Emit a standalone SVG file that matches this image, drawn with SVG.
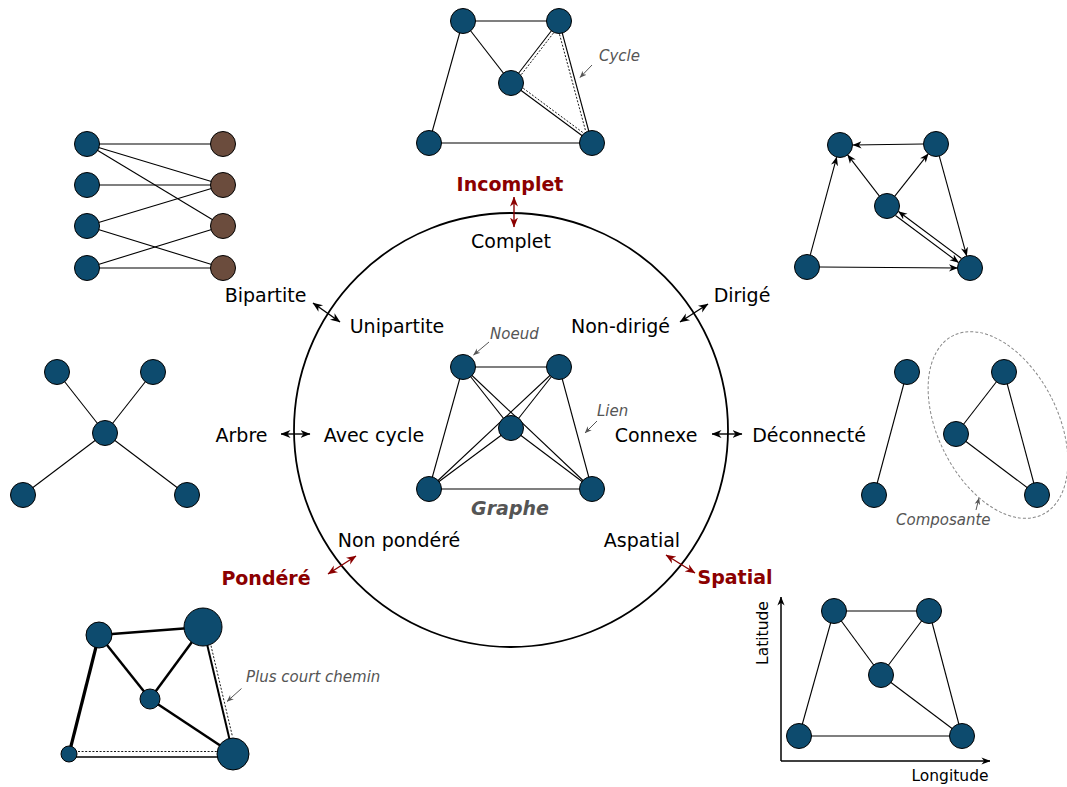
<svg xmlns="http://www.w3.org/2000/svg" width="1067" height="787" viewBox="0 0 1067 787">
<style>
.n{fill:#0d4b6e;stroke:#000;stroke-width:1}
.br{fill:#6b4c3d;stroke:#000;stroke-width:1}
.e{stroke:#000;stroke-width:1.1;fill:none}
.dt{stroke:#000;stroke-width:0.9;stroke-dasharray:2 1.6;fill:none}
.t{font-family:"DejaVu Sans",sans-serif;font-size:19px;text-anchor:middle;fill:#000}
.r{fill:#8b0000;font-weight:bold}
.a{font-family:"DejaVu Sans",sans-serif;font-size:15px;font-style:italic;fill:#555}
.ar{stroke:#000;stroke-width:1.4;fill:none;marker-start:url(#hk);marker-end:url(#hk)}
.arr{stroke:#8b0000;stroke-width:1.4;fill:none;marker-start:url(#hr);marker-end:url(#hr)}
.ag{stroke:#555;stroke-width:1;fill:none;marker-end:url(#hg)}
.de{stroke:#000;stroke-width:1.1;fill:none;marker-end:url(#hd)}
</style>
<defs>
<marker id="hk" viewBox="0 0 10 10" refX="9.5" refY="5" markerWidth="10" markerHeight="10" markerUnits="userSpaceOnUse" orient="auto-start-reverse"><path d="M0,1 L10,5 L0,9 L3,5 Z" fill="#000"/></marker>
<marker id="hr" viewBox="0 0 10 10" refX="9.5" refY="5" markerWidth="10" markerHeight="10" markerUnits="userSpaceOnUse" orient="auto-start-reverse"><path d="M0,1 L10,5 L0,9 L3,5 Z" fill="#8b0000"/></marker>
<marker id="hg" viewBox="0 0 10 10" refX="9.5" refY="5" markerWidth="7" markerHeight="7" markerUnits="userSpaceOnUse" orient="auto"><path d="M0,1 L10,5 L0,9 L3,5 Z" fill="#555"/></marker>
<marker id="hd" viewBox="0 0 10 10" refX="9.5" refY="5" markerWidth="9" markerHeight="9" markerUnits="userSpaceOnUse" orient="auto"><path d="M0,1 L10,5 L0,9 L3,5 Z" fill="#000"/></marker>
</defs>
<rect width="1067" height="787" fill="#fff"/>

<!-- central circle -->
<circle id="circle" cx="511" cy="430" r="217" fill="none" stroke="#000" stroke-width="1.8"/>

<!-- connectors -->
<g id="connectors">
  <!-- property arrows -->
  <line class="arr" x1="514" y1="197" x2="514" y2="227"/>
  <line class="ar" x1="313" y1="303" x2="340" y2="322"/>
  <line class="ar" x1="680" y1="322" x2="708" y2="304"/>
  <line class="ar" x1="281" y1="434" x2="310" y2="434"/>
  <line class="ar" x1="712" y1="434" x2="742" y2="434"/>
  <line class="arr" x1="328" y1="574" x2="356" y2="556"/>
  <line class="arr" x1="666" y1="555" x2="695" y2="573"/>
  <!-- annotation arrows -->
  <line class="ag" x1="592" y1="65" x2="580" y2="77.5"/>
  <line class="ag" x1="489" y1="342" x2="473.5" y2="355"/>
  <line class="ag" x1="597" y1="421" x2="585" y2="433"/>
  <line class="ag" x1="976" y1="510" x2="979" y2="498"/>
  <line class="ag" x1="241.5" y1="688.5" x2="227" y2="701.5"/>
  <!-- top graph (cycle) -->
  <g id="e-top">
    <line class="e" x1="463" y1="21" x2="559" y2="21"/>
    <line class="e" x1="463" y1="21" x2="511" y2="83"/>
    <line class="e" x1="463" y1="21" x2="429" y2="143"/>
    <line class="e" x1="429" y1="143" x2="592" y2="143"/>
    <line class="e" x1="511" y1="83" x2="559" y2="21"/>
    <line class="e" x1="511" y1="83" x2="592" y2="143"/>
    <line class="e" x1="559" y1="21" x2="592" y2="143"/>
    <line class="dt" x1="521.4" y1="74.5" x2="553.4" y2="33.1"/>
    <line class="dt" x1="559.5" y1="34.3" x2="585.7" y2="131.3"/>
    <line class="dt" x1="523.3" y1="88.3" x2="583.3" y2="132.9"/>
  </g>
  <!-- bipartite -->
  <g id="e-bip">
    <line class="e" x1="87" y1="144" x2="223" y2="144"/>
    <line class="e" x1="87" y1="144" x2="223" y2="185"/>
    <line class="e" x1="87" y1="144" x2="223" y2="226"/>
    <line class="e" x1="87" y1="185" x2="223" y2="185"/>
    <line class="e" x1="87" y1="226" x2="223" y2="185"/>
    <line class="e" x1="87" y1="226" x2="223" y2="268"/>
    <line class="e" x1="87" y1="268" x2="223" y2="226"/>
    <line class="e" x1="87" y1="268" x2="223" y2="268"/>
  </g>
  <!-- directed -->
  <g id="e-dir">
    <line class="de" x1="923" y1="144" x2="853" y2="145"/>
    <line class="de" x1="879.4" y1="196.1" x2="847.6" y2="154.9"/>
    <line class="de" x1="894.8" y1="196.2" x2="928.2" y2="153.8"/>
    <line class="de" x1="810.3" y1="254.9" x2="836.7" y2="157.1"/>
    <line class="de" x1="819.5" y1="267" x2="957.5" y2="268"/>
    <line class="de" x1="939.3" y1="156.1" x2="966.7" y2="255.9"/>
    <line class="de" x1="895.5" y1="215.5" x2="958.5" y2="262.5"/>
    <line class="de" x1="961.5" y1="258.5" x2="898.5" y2="211.5"/>
  </g>
  <!-- tree -->
  <g id="e-tree">
    <line class="e" x1="105" y1="433" x2="57" y2="372"/>
    <line class="e" x1="105" y1="433" x2="153" y2="372"/>
    <line class="e" x1="105" y1="433" x2="23" y2="495"/>
    <line class="e" x1="105" y1="433" x2="187" y2="495"/>
  </g>
  <!-- disconnected -->
  <g id="e-dis">
    <line class="e" x1="907" y1="372" x2="874" y2="495"/>
    <line class="e" x1="1004" y1="372" x2="956" y2="434"/>
    <line class="e" x1="1004" y1="372" x2="1037" y2="495"/>
    <line class="e" x1="956" y1="434" x2="1037" y2="495"/>
    <ellipse cx="998" cy="425" rx="60" ry="100" transform="rotate(-26.6 998 425)" fill="none" stroke="#888" stroke-width="1" stroke-dasharray="3 2"/>
  </g>
  <!-- center complete graph -->
  <g id="e-center">
    <line class="e" x1="463" y1="367" x2="559" y2="367"/>
    <line class="e" x1="463" y1="367" x2="429" y2="489"/>
    <line class="e" x1="463" y1="367" x2="511" y2="428"/>
    <line class="e" x1="463" y1="367" x2="592" y2="489"/>
    <line class="e" x1="559" y1="367" x2="592" y2="489"/>
    <line class="e" x1="559" y1="367" x2="511" y2="428"/>
    <line class="e" x1="559" y1="367" x2="429" y2="489"/>
    <line class="e" x1="511" y1="428" x2="429" y2="489"/>
    <line class="e" x1="511" y1="428" x2="592" y2="489"/>
    <line class="e" x1="429" y1="489" x2="592" y2="489"/>
  </g>
  <!-- weighted -->
  <g id="e-weighted">
    <line class="e" style="stroke-width:2.5" x1="99" y1="635" x2="203" y2="627"/>
    <line class="e" style="stroke-width:2.5" x1="99" y1="635" x2="150" y2="699"/>
    <line class="e" style="stroke-width:2.5" x1="203" y1="627" x2="150" y2="699"/>
    <line class="e" style="stroke-width:3.2" x1="99" y1="635" x2="69" y2="754"/>
    <line class="e" style="stroke-width:2.5" x1="150" y1="699" x2="233" y2="754"/>
    <line class="e" style="stroke-width:2" x1="203" y1="627" x2="233" y2="754"/>
    <line class="e" style="stroke-width:1.3" x1="69" y1="757" x2="233" y2="757"/>
    <line class="dt" x1="211" y1="645.7" x2="232.5" y2="736.7"/>
    <line class="dt" x1="78" y1="751.5" x2="217" y2="751.5"/>
  </g>
  <!-- spatial -->
  <g id="e-spatial">
    <line class="e" x1="834" y1="611" x2="929" y2="611"/>
    <line class="e" x1="834" y1="611" x2="799" y2="736"/>
    <line class="e" x1="834" y1="611" x2="881" y2="675"/>
    <line class="e" x1="929" y1="611" x2="881" y2="675"/>
    <line class="e" x1="929" y1="611" x2="962" y2="736"/>
    <line class="e" x1="881" y1="675" x2="962" y2="736"/>
    <line class="e" x1="799" y1="736" x2="962" y2="736"/>
    <line stroke="#000" stroke-width="1.5" x1="781" y1="761" x2="781" y2="597" marker-end="url(#hd)"/>
    <line stroke="#000" stroke-width="1.5" x1="781" y1="761" x2="990" y2="761" marker-end="url(#hd)"/>
  </g>
</g>

<!-- nodes: top graph -->
<g id="top-a"><circle class="n" cx="463" cy="21" r="12.5"/></g>
<g id="top-b"><circle class="n" cx="559" cy="21" r="12.5"/></g>
<g id="top-c"><circle class="n" cx="511" cy="83" r="12.5"/></g>
<g id="top-d"><circle class="n" cx="429" cy="143" r="12.5"/></g>
<g id="top-e"><circle class="n" cx="592" cy="143" r="12.5"/></g>
<!-- bipartite -->
<g id="bip-l1"><circle class="n" cx="87" cy="144" r="12.5"/></g>
<g id="bip-l2"><circle class="n" cx="87" cy="185" r="12.5"/></g>
<g id="bip-l3"><circle class="n" cx="87" cy="226" r="12.5"/></g>
<g id="bip-l4"><circle class="n" cx="87" cy="268" r="12.5"/></g>
<g id="bip-r1"><circle class="br" cx="223" cy="144" r="12.5"/></g>
<g id="bip-r2"><circle class="br" cx="223" cy="185" r="12.5"/></g>
<g id="bip-r3"><circle class="br" cx="223" cy="226" r="12.5"/></g>
<g id="bip-r4"><circle class="br" cx="223" cy="268" r="12.5"/></g>
<!-- directed -->
<g id="dir-tl"><circle class="n" cx="840" cy="145" r="12.5"/></g>
<g id="dir-tr"><circle class="n" cx="936" cy="144" r="12.5"/></g>
<g id="dir-c"><circle class="n" cx="887" cy="206" r="12.5"/></g>
<g id="dir-bl"><circle class="n" cx="807" cy="267" r="12.5"/></g>
<g id="dir-br"><circle class="n" cx="970" cy="268" r="12.5"/></g>
<!-- tree -->
<g id="tree-tl"><circle class="n" cx="57" cy="372" r="12.5"/></g>
<g id="tree-tr"><circle class="n" cx="153" cy="372" r="12.5"/></g>
<g id="tree-c"><circle class="n" cx="105" cy="433" r="12.5"/></g>
<g id="tree-bl"><circle class="n" cx="23" cy="495" r="12.5"/></g>
<g id="tree-br"><circle class="n" cx="187" cy="495" r="12.5"/></g>
<!-- disconnected -->
<g id="dis-1"><circle class="n" cx="907" cy="372" r="12.5"/></g>
<g id="dis-2"><circle class="n" cx="874" cy="495" r="12.5"/></g>
<g id="dis-3"><circle class="n" cx="1004" cy="372" r="12.5"/></g>
<g id="dis-4"><circle class="n" cx="956" cy="434" r="12.5"/></g>
<g id="dis-5"><circle class="n" cx="1037" cy="495" r="12.5"/></g>
<!-- center -->
<g id="cen-tl"><circle class="n" cx="463" cy="367" r="12.5"/></g>
<g id="cen-tr"><circle class="n" cx="559" cy="367" r="12.5"/></g>
<g id="cen-c"><circle class="n" cx="511" cy="428" r="12.5"/></g>
<g id="cen-bl"><circle class="n" cx="429" cy="489" r="12.5"/></g>
<g id="cen-br"><circle class="n" cx="592" cy="489" r="12.5"/></g>
<!-- weighted -->
<g id="w-1"><circle class="n" cx="99" cy="635" r="13"/></g>
<g id="w-2"><circle class="n" cx="203" cy="627" r="19"/></g>
<g id="w-3"><circle class="n" cx="150" cy="699" r="10"/></g>
<g id="w-4"><circle class="n" cx="69" cy="754" r="8"/></g>
<g id="w-5"><circle class="n" cx="233" cy="754" r="16"/></g>
<!-- spatial -->
<g id="sp-tl"><circle class="n" cx="834" cy="611" r="12.5"/></g>
<g id="sp-tr"><circle class="n" cx="929" cy="611" r="12.5"/></g>
<g id="sp-c"><circle class="n" cx="881" cy="675" r="12.5"/></g>
<g id="sp-bl"><circle class="n" cx="799" cy="736" r="12.5"/></g>
<g id="sp-br"><circle class="n" cx="962" cy="736" r="12.5"/></g>

<!-- labels -->
<g id="labels">
  <text class="t r" x="510" y="191">Incomplet</text>
  <text class="t" x="511" y="248">Complet</text>
  <text class="t" x="265.5" y="302">Bipartite</text>
  <text class="t" x="397" y="333">Unipartite</text>
  <text class="t" x="742" y="302">Dirigé</text>
  <text class="t" x="620.5" y="333">Non-dirigé</text>
  <text class="t" x="241.5" y="442">Arbre</text>
  <text class="t" x="374" y="442">Avec cycle</text>
  <text class="t" x="656" y="442">Connexe</text>
  <text class="t" x="809" y="442">Déconnecté</text>
  <text class="t" x="399" y="547">Non pondéré</text>
  <text class="t r" x="266" y="585">Pondéré</text>
  <text class="t" x="642" y="547">Aspatial</text>
  <text class="t r" x="735" y="584">Spatial</text>
  <text class="t" x="510" y="515" style="font-weight:bold;font-style:italic;fill:#555">Graphe</text>
  <text class="a" x="599" y="61">Cycle</text>
  <text class="a" x="490" y="339">Noeud</text>
  <text class="a" x="597" y="416">Lien</text>
  <text class="a" x="896" y="525">Composante</text>
  <text class="a" x="246" y="682">Plus court chemin</text>
  <text class="t" x="768" y="633" style="font-size:15.5px" transform="rotate(-90 768 633)">Latitude</text>
  <text class="t" x="950" y="781" style="font-size:15.5px">Longitude</text>
</g>
</svg>
